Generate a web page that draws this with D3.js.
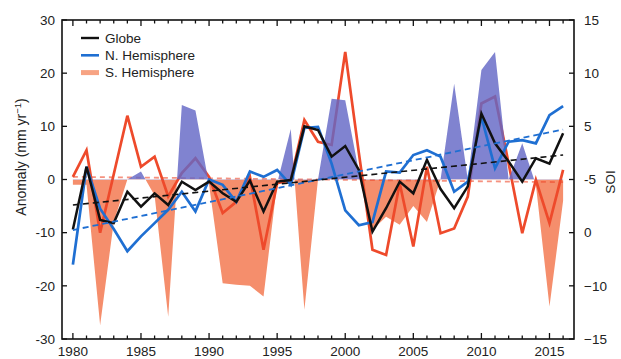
<!DOCTYPE html>
<html><head><meta charset="utf-8">
<script src="https://cdn.jsdelivr.net/npm/d3@7/dist/d3.min.js"></script>
<style>
body{margin:0;background:#fff}
svg{display:block}
text{font-family:"Liberation Sans",Arial,Helvetica,sans-serif;fill:#222}
</style>
</head><body>
<svg id="chart" width="621" height="359"></svg>
<script>
// ---- data ----
const years = [1980,1981,1982,1983,1984,1985,1986,1987,1988,1989,1990,1991,1992,1993,1994,1995,1996,1997,1998,1999,2000,2001,2002,2003,2004,2005,2006,2007,2008,2009,2010,2011,2012,2013,2014,2015,2016];
const globe = [-9.4,2.4,-7.6,-8.2,-2.3,-5.1,-2.6,-4.8,-0.4,-2.0,-0.4,-2.6,-4.2,-0.2,-6.0,-0.4,-0.1,10.0,9.3,4.3,6.3,1.8,-9.8,-5.4,-0.4,-2.6,3.7,-1.8,-5.4,-1.3,12.4,6.8,3.4,-0.4,4.0,3.0,8.7];
const nHem  = [-16.0,2.4,-5.5,-9.3,-13.5,-10.7,-8.2,-5.7,-2.3,-6.0,0.0,-1.0,-4.2,1.5,0.5,1.8,-1.0,9.7,9.9,3.0,-5.8,-8.6,-8.0,1.5,1.3,4.6,5.5,4.3,-2.3,-0.4,11.8,2.1,7.1,7.4,6.8,12.1,13.8];
const sHem  = [0.5,5.5,-10.0,1.0,12.0,2.4,4.3,-3.2,1.2,4.0,0.5,-6.3,-4.2,0.5,-13.2,-0.7,-0.1,11.2,7.1,6.5,24.0,5.0,-13.2,-14.2,-0.7,-12.6,2.4,-10.1,-9.2,-3.2,14.3,15.6,3.0,-10.1,-0.1,-8.2,1.8];
// SOI on right axis units
const soi   = [-0.5,-0.5,-13.7,-4.0,0.0,0.75,-1.5,-12.9,7.0,6.5,-0.5,-9.75,-9.9,-10.0,-11.0,-0.35,4.75,-12.25,0.0,7.6,7.45,0.75,-4.75,-3.5,-4.25,-2.5,-4.0,0.0,9.0,0.0,10.3,12.0,0.0,3.4,-0.5,-11.95,-2.0];
// linear trends (endpoints)
const trendYears = [1980, 2016];
const globeTrend = [-4.8, 4.6];
const nHemTrend  = [-9.5, 9.4];
const sHemTrend  = [0.5, -0.5];
// ticks
const leftTicks = [-30,-20,-10,0,10,20,30];
const leftTickLabels = ["-30","-20","-10","0","10","20","30"];
const rightTicks = [15,10,5,0,-5,-10,-15];
const rightTickLabels = ["15","10","5","-5","0","\u221210","\u221215"];
const xLabelYears = [1980,1985,1990,1995,2000,2005,2010,2015];
const legendItems = ["Globe","N. Hemisphere","S. Hemisphere"];

// ---- layout ----
const L = 62, R = 574, T = 20, B = 339;
const svg = d3.select("#chart");
const x = d3.scaleLinear().domain([1979.2, 2016.8]).range([L, R]);
const y = d3.scaleLinear().domain([-30, 30]).range([B, T]);
const yR = d3.scaleLinear().domain([-15, 15]).range([B, T]);

const C = {
  black: "#111111",
  blue: "#1f6fd2",
  red: "#ee4a2b",
  blueFill: "#6468c6",
  orangeFill: "#f58e6c",
  legendOrange: "#f7a383"
};

const defs = svg.append("defs");
defs.append("clipPath").attr("id","above").append("rect")
  .attr("x",L).attr("y",T).attr("width",R-L).attr("height",yR(0)-T);
defs.append("clipPath").attr("id","below").append("rect")
  .attr("x",L).attr("y",yR(0)).attr("width",R-L).attr("height",B-yR(0));
defs.append("clipPath").attr("id","plot").append("rect")
  .attr("x",L).attr("y",T).attr("width",R-L).attr("height",B-T);

const g = svg.append("g").attr("clip-path","url(#plot)");

const soiArea = d3.area()
  .x((d,i)=>x(years[i]))
  .y0(yR(0))
  .y1(d=>yR(d));

// orange (negative SOI) fill
g.append("path").datum(soi).attr("d",soiArea)
  .attr("fill",C.orangeFill).attr("clip-path","url(#below)");

const lineGen = arr => d3.line().x((d,i)=>x(years[i])).y(d=>y(d))(arr);
const trendGen = arr => d3.line().x((d,i)=>x(trendYears[i])).y(d=>y(d))(arr);

// S. Hemisphere trend & line
g.append("path").attr("d",trendGen(sHemTrend)).attr("fill","none")
  .attr("stroke",C.red).attr("stroke-width",1.8).attr("stroke-dasharray","5,4").attr("opacity",0.6);
g.append("path").attr("d",lineGen(sHem)).attr("fill","none")
  .attr("stroke",C.red).attr("stroke-width",2.7);

// blue (positive SOI) fill
g.append("path").datum(soi).attr("d",soiArea)
  .attr("fill",C.blueFill).attr("opacity",0.82).attr("clip-path","url(#above)");

// N. Hemisphere & Globe lines
g.append("path").attr("d",lineGen(nHem)).attr("fill","none")
  .attr("stroke",C.blue).attr("stroke-width",2.7);
g.append("path").attr("d",lineGen(globe)).attr("fill","none")
  .attr("stroke",C.black).attr("stroke-width",2.5);

// trends
g.append("path").attr("d",trendGen(nHemTrend)).attr("fill","none")
  .attr("stroke",C.blue).attr("stroke-width",1.8).attr("stroke-dasharray","6,4");
g.append("path").attr("d",trendGen(globeTrend)).attr("fill","none")
  .attr("stroke",C.black).attr("stroke-width",1.6).attr("stroke-dasharray","6,4");

// ---- frame & axes ----
svg.append("rect").attr("x",L).attr("y",T).attr("width",R-L).attr("height",B-T)
  .attr("fill","none").attr("stroke","#111").attr("stroke-width",1.6);

const ax = svg.append("g").attr("stroke","#111").attr("stroke-width",1.3);
years.forEach(yr=>{
  const len = (yr % 5 === 0) ? 6 : 3.5;
  ax.append("line").attr("x1",x(yr)).attr("x2",x(yr)).attr("y1",B).attr("y2",B-len);
  ax.append("line").attr("x1",x(yr)).attr("x2",x(yr)).attr("y1",T).attr("y2",T+len);
});
leftTicks.forEach(v=>{
  ax.append("line").attr("x1",L).attr("x2",L+5).attr("y1",y(v)).attr("y2",y(v));
});
rightTicks.forEach(v=>{
  ax.append("line").attr("x1",R).attr("x2",R-5).attr("y1",yR(v)).attr("y2",yR(v));
});

const fs = 13.5;
svg.append("g").selectAll("text").data(xLabelYears).join("text")
  .attr("x",d=>x(d)).attr("y",356).attr("text-anchor","middle")
  .attr("font-size",fs).text(d=>String(d));
svg.append("g").selectAll("text").data(leftTicks).join("text")
  .attr("x",55).attr("y",d=>y(d)).attr("dy","0.35em").attr("text-anchor","end")
  .attr("font-size",fs).text((d,i)=>leftTickLabels[i]);
svg.append("g").selectAll("text").data(rightTicks).join("text")
  .attr("x",584).attr("y",d=>yR(d)).attr("dy","0.35em").attr("text-anchor","start")
  .attr("font-size",fs).text((d,i)=>rightTickLabels[i]);

// axis titles
const yt = svg.append("text").attr("transform","translate(26,157) rotate(-90)")
  .attr("text-anchor","middle").attr("font-size",14);
yt.append("tspan").text("Anomaly (mm yr");
yt.append("tspan").attr("dy",-5).attr("font-size",9.5).text("\u22121");
yt.append("tspan").attr("dy",5).text(")");
svg.append("text").attr("transform","translate(615,182) rotate(-90)")
  .attr("text-anchor","middle").attr("font-size",13.5).text("SOI");

// legend
const lg = svg.append("g");
const legendColors = [C.black, C.blue, C.legendOrange];
const legendWidths = [2.4, 2.6, 5];
legendItems.forEach((name,i)=>{
  const yy = 38 + i*17.3;
  lg.append("line").attr("x1",81).attr("x2",99).attr("y1",yy).attr("y2",yy)
    .attr("stroke",legendColors[i]).attr("stroke-width",legendWidths[i]);
  lg.append("text").attr("x",105).attr("y",yy).attr("dy","0.36em")
    .attr("font-size",fs).text(name);
});
</script>
</body></html>
